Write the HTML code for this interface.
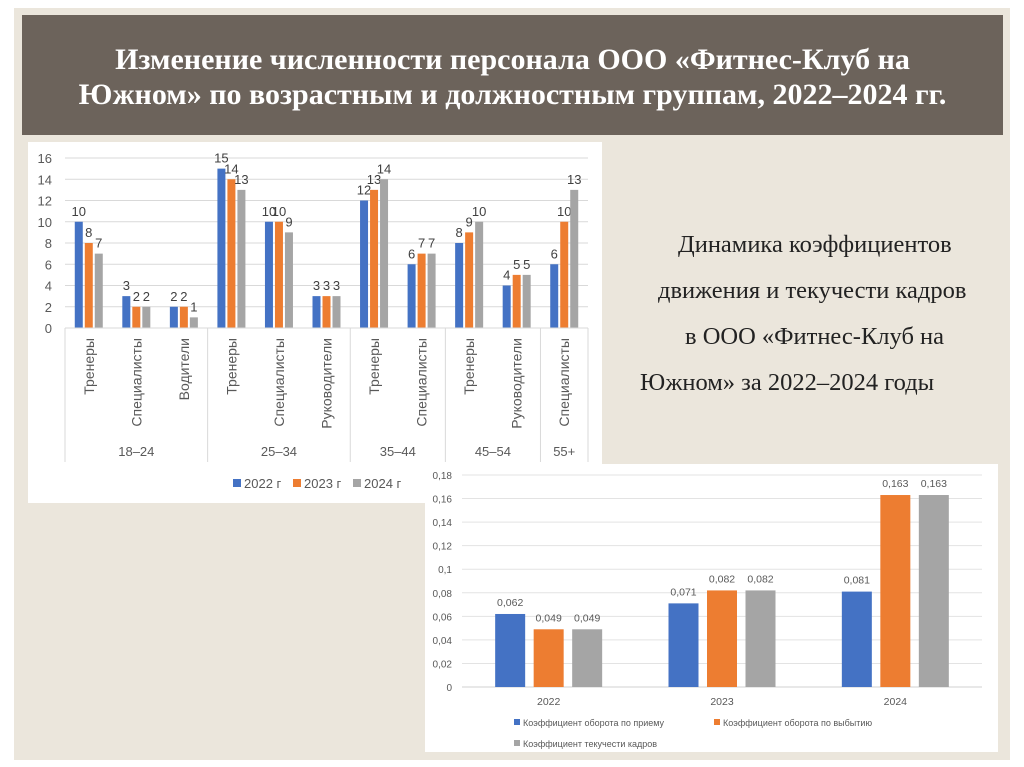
<!DOCTYPE html>
<html><head><meta charset="utf-8">
<style>
body{margin:0;width:1024px;height:767px;background:#fff;position:relative;overflow:hidden;font-family:"Liberation Sans",sans-serif}
#bg{position:absolute;left:14px;top:8px;width:996px;height:752px;background:#ebe6dc}
#hdr{position:absolute;left:22px;top:15px;width:981px;height:120px;background:#6c635b;color:#fff;font-family:"Liberation Serif",serif;font-weight:bold;font-size:30px;text-align:center;line-height:35px;box-sizing:border-box;padding-top:27px;white-space:nowrap}
#txt{position:absolute;left:630px;top:222px;width:380px;font-family:"Liberation Serif",serif;font-size:24.5px;color:#222;line-height:46px;white-space:nowrap}
svg{position:absolute;left:0;top:0}
</style></head><body>
<div id="bg"></div>
<div id="hdr">Изменение численности персонала ООО «Фитнес-Клуб на<br>Южном» по возрастным и должностным группам, 2022–2024 гг.</div>
<div id="txt">
<div style="padding-left:48px">Динамика коэффициентов</div>
<div style="padding-left:28px">движения и текучести кадров</div>
<div style="padding-left:55px">в ООО «Фитнес-Клуб на</div>
<div style="padding-left:10px">Южном» за 2022–2024 годы</div>
</div>
<svg id="s" width="1024" height="767" xmlns="http://www.w3.org/2000/svg"></svg>
<script>
const cats1=["Тренеры","Специалисты","Водители","Тренеры","Специалисты","Руководители","Тренеры","Специалисты","Тренеры","Руководители","Специалисты"];
const groups1=["18–24","25–34","35–44","45–54","55+"];
const groupSizes1=[3,3,2,2,1];
const v2022=[10,3,2,15,10,3,12,6,8,4,6];
const v2023=[8,2,2,14,10,3,13,7,9,5,10];
const v2024=[7,2,1,13,9,3,14,7,10,5,13];
const ticks1=[0,2,4,6,8,10,12,14,16];
const years2=["2022","2023","2024"];
const k1=[0.062,0.071,0.081];
const k2=[0.049,0.082,0.163];
const k3=[0.049,0.082,0.163];
const ticks2=[0,0.02,0.04,0.06,0.08,0.1,0.12,0.14,0.16,0.18];
const cols=["#4472c4","#ed7d31","#a5a5a5"];
const S=document.getElementById('s');
function el(t,a,txt){const e=document.createElementNS('http://www.w3.org/2000/svg',t);for(const k in a)e.setAttribute(k,a[k]);if(txt!==undefined)e.textContent=txt;S.appendChild(e);return e;}
// chart 1
let r=el('rect',{x:28,y:142,width:574,height:361,fill:'#fff'});


const x0=65,x1=588,cw=(x1-x0)/cats1.length;
const y1=v=>328-v*(170/16);
ticks1.forEach(t=>{
 const g=el('line',{x1:x0,x2:x1,y1:y1(t),y2:y1(t),stroke:'#d9d9d9'});
 
 
 const l=el('text',{x:52,y:y1(t)+5,'text-anchor':'end','font-size':13,fill:'#595959'},String(t));
 
 
});
const ser1=[v2022,v2023,v2024];
cats1.forEach((c,i)=>{
 const cx=x0+cw*(i+0.5);
 ser1.forEach((s,j)=>{
  const b=el('rect',{x:cx-14+j*10,y:y1(s[i]),width:8,height:y1(0)-y1(s[i]),fill:cols[j]});
  
  
  const t=el('text',{x:cx-10+j*10,y:y1(s[i])-6,'text-anchor':'middle','font-size':13,fill:'#404040'},String(s[i]));
  
  
 });
 const ct=el('text',{x:0,y:0,'text-anchor':'end','font-size':14,fill:'#595959',transform:`translate(${cx+5},338) rotate(-90)`},c);
 
 
});
let ax=el('line',{x1:x0,x2:x1,y1:328,y2:328,stroke:'#d9d9d9'});


let acc=0;
[0].concat(groupSizes1).forEach((n,k)=>{
 acc+=n;const xx=x0+acc*cw;
 const sl=el('line',{x1:xx,x2:xx,y1:328,y2:462,stroke:'#d9d9d9'});
 
 
});
acc=0;
groups1.forEach((g,k)=>{
 const cx=x0+(acc+groupSizes1[k]/2)*cw;acc+=groupSizes1[k];
 const t=el('text',{x:cx,y:456,'text-anchor':'middle','font-size':13,fill:'#595959'},g);
 
 
});
["2022 г","2023 г","2024 г"].forEach((n,j)=>{
 const lx=233+j*60;
 const m=el('rect',{x:lx,y:479,width:8,height:8,fill:cols[j]});
 
 
 const t=el('text',{x:lx+11,y:488,'font-size':13,fill:'#595959'},n);
 
 
});
// chart 2
r=el('rect',{x:425,y:464,width:573,height:288,fill:'#fff'});


const X0=462,X1=982,gw=(X1-X0)/years2.length;
const y2=v=>687-v*(212/0.18);
ticks2.forEach(t=>{
 const g=el('line',{x1:X0,x2:X1,y1:y2(t),y2:y2(t),stroke:t===0?'#d0d0d0':'#e3e3e3'});
 
 
 const l=el('text',{x:452,y:y2(t)+4,'text-anchor':'end','font-size':10,fill:'#595959'},String(t).replace('.',','));
 
 
});
const ser2=[k1,k2,k3];
years2.forEach((yv,i)=>{
 const cx=X0+gw*(i+0.5);
 ser2.forEach((s,j)=>{
  const bx=cx-15+(j-1)*38.5;
  const b=el('rect',{x:bx,y:y2(s[i]),width:30,height:y2(0)-y2(s[i]),fill:cols[j]});
  
  
  const t=el('text',{x:bx+15,y:y2(s[i])-8,'text-anchor':'middle','font-size':10.5,fill:'#595959'},String(s[i]).replace('.',','));
  
  
 });
 const t=el('text',{x:cx,y:705,'text-anchor':'middle','font-size':10.5,fill:'#595959'},yv);
 
 
});
[["Коэффициент оборота по приему",514,726],["Коэффициент оборота по выбытию",714,726],["Коэффициент текучести кадров",514,747]].forEach((d,j)=>{
 const m=el('rect',{x:d[1],y:d[2]-7,width:6,height:6,fill:cols[j]});
 
 
 const t=el('text',{x:d[1]+9,y:d[2],'font-size':9,fill:'#595959'},d[0]);
 
 
});
</script>
</body></html>
